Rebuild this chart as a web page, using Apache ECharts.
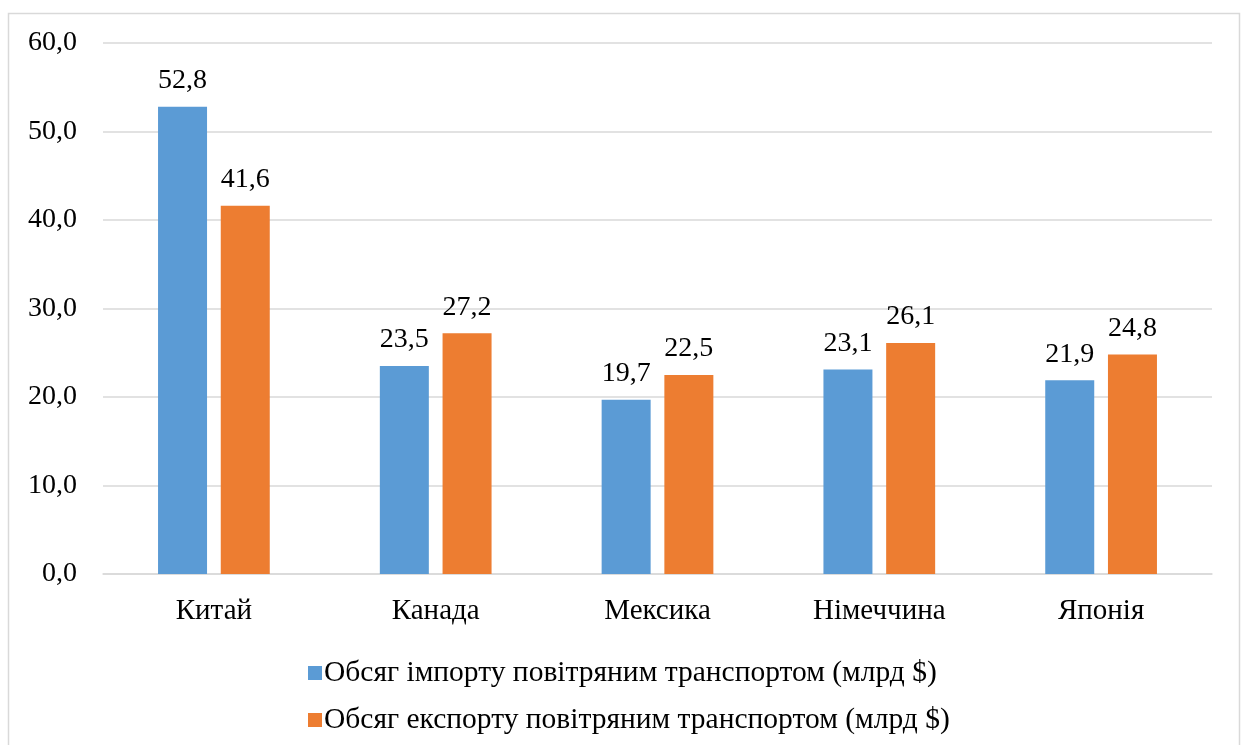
<!DOCTYPE html>
<html>
<head>
<meta charset="utf-8">
<script src="https://cdn.jsdelivr.net/npm/echarts@6/dist/echarts.min.js"></script>
<style>
  html, body { margin: 0; padding: 0; background: #fff; }
  #chart { width: 1245px; height: 745px; }
</style>
</head>
<body>
<div id="chart"></div>
<script>
var categories = ['Китай', 'Канада', 'Мексика', 'Німеччина', 'Японія'];
var importValues = [52.8, 23.5, 19.7, 23.1, 21.9];
var exportValues = [41.6, 27.2, 22.5, 26.1, 24.8];
var importName = 'Обсяг імпорту повітряним транспортом (млрд $)';
var exportName = 'Обсяг експорту повітряним транспортом (млрд $)';

var fontFamily = '"Liberation Serif", "Times New Roman", serif';

function comma(v) {
    return v.toFixed(1).replace('.', ',');
}

var myChart = echarts.init(document.getElementById('chart'));

var option = {
    animation: false,
    textStyle: { fontFamily: fontFamily },
    graphic: [{
        type: 'rect',
        shape: { x: 8.5, y: 13.5, width: 1231, height: 800 },
        style: { fill: 'none', stroke: '#d9d9d9', lineWidth: 1.5 },
        silent: true
    }],
    legend: {
        orient: 'vertical',
        left: 303,
        top: 653,
        itemWidth: 14,
        itemHeight: 14,
        itemGap: 17,
        icon: 'rect',
        textStyle: { fontFamily: fontFamily, fontSize: 29.5, lineHeight: 29, color: '#000', padding: [0, 0, 0, -3] },
        data: [importName, exportName]
    },
    grid: {
        left: 103,
        right: 33,
        top: 43,
        bottom: 171
    },
    xAxis: {
        type: 'category',
        data: categories,
        axisLine: { lineStyle: { color: '#d9d9d9', width: 1.5 } },
        axisTick: { show: false },
        axisLabel: { fontFamily: fontFamily, fontSize: 29, color: '#000', margin: 23 }
    },
    yAxis: {
        type: 'value',
        min: 0,
        max: 60,
        interval: 10,
        axisLine: { show: false },
        axisTick: { show: false },
        splitLine: { lineStyle: { color: '#d9d9d9', width: 1.5 } },
        axisLabel: {
            fontFamily: fontFamily, fontSize: 28, color: '#000', margin: 26,
            formatter: function (v) { return comma(v); }
        }
    },
    series: [{
        name: importName,
        type: 'bar',
        barWidth: 49,
        barGap: '28%',
        color: '#5B9BD5',
        label: {
            show: true,
            position: 'top',
            distance: 12,
            fontFamily: fontFamily,
            fontSize: 28,
            color: '#000',
            formatter: function (p) { return comma(p.value); }
        },
        data: importValues
    }, {
        name: exportName,
        type: 'bar',
        barWidth: 49,
        barGap: '28%',
        color: '#ED7D31',
        label: {
            show: true,
            position: 'top',
            distance: 12,
            fontFamily: fontFamily,
            fontSize: 28,
            color: '#000',
            formatter: function (p) { return comma(p.value); }
        },
        data: exportValues
    }]
};
myChart.setOption(option);
</script>
</body>
</html>
